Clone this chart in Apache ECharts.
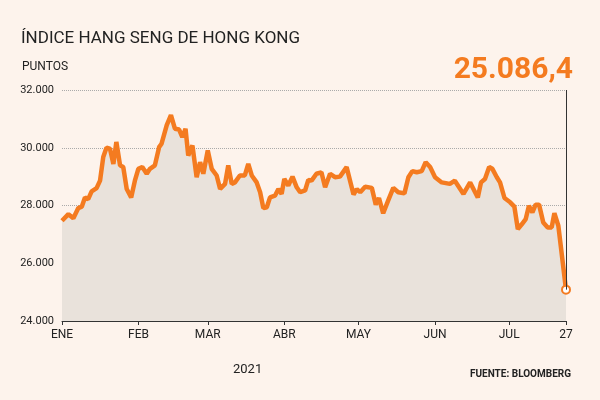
<!DOCTYPE html><html><head><meta charset="utf-8">
<script src="https://cdn.jsdelivr.net/npm/echarts@6/dist/echarts.min.js"></script>
<style>html,body{margin:0;background:#fdf3ec}#c{width:600px;height:400px}</style></head><body><div id="c"></div>
<script>
const days=[0,2.6,4.6,6.6,8,9.3,10.6,12,14,15.4,16.7,18,19.4,20.8,22,23.5,24.8,26.2,28,29.5,30.9,32.5,34.3,35.6,37.6,39.3,40.3,42.4,44.1,45.7,47.4,48.7,50,51.1,52.8,54.5,55.9,57.2,59,60.6,62.6,64,66,67.3,68.7,70,72,74,75.4,76.8,78.8,80.2,81.5,82.9,84.2,86.2,87.6,88.9,90,91.6,93.3,95,96.4,98.4,99.7,101,103,105,106.5,108.5,110.5,112.5,115.2,118,119.3,120.7,122.7,125.4,127,128.3,130,132,134.1,136.1,138.6,140.2,141.8,143.6,145.6,147.2,149,151,153.7,157,159,162.5,165.2,168.3,169.6,171.2,172.9,174.2,176,177.3,179.1,181.4,183.1,184.5,186.1,187.7,189,190.4,191.7,193.1,194.8,196.6,198.2,199.3,200.9,204];
const values=[27470,27700,27560,27910,27960,28280,28220,28490,28600,28860,29680,30000,29970,29440,30200,29390,29330,28570,28280,28860,29270,29330,29100,29270,29390,30020,30140,30780,31130,30660,30630,30370,30660,29730,30080,28980,29500,29100,29910,29270,29040,28570,28750,29390,28750,28800,29040,29040,29440,29040,28800,28460,27910,27940,28280,28340,28570,28400,28920,28690,29000,28630,28460,28520,28890,28860,29100,29150,28630,29100,28980,29000,29330,28380,28570,28460,28650,28610,28030,28260,27730,28170,28610,28460,28420,28980,29190,29150,29190,29500,29330,28980,28800,28750,28860,28400,28800,28280,28800,28920,29330,29270,28980,28800,28260,28110,27960,27180,27350,27530,27990,27760,28030,28030,27410,27240,27240,27730,27300,25086.4];
const tickDays=[0,31,59,90,120,151,181,204];
const tickLabels=['ENE','FEB','MAR','ABR','MAY','JUN','JUL','27'];
const yTicks=[24000,26000,28000,30000,32000];
const fmt=v=>String(v).replace(/\B(?=(\d{3})+(?!\d))/g,'.');
const data=days.map((d,i)=>i===days.length-1?{value:[d,values[i]],symbol:'circle',symbolSize:8,itemStyle:{color:'#fff',borderColor:'#f47b20',borderWidth:2}}:[d,values[i]]);
const ch=echarts.init(document.getElementById('c'));
ch.setOption({backgroundColor:'#fdf3ec',animation:false,
title:[{text:'ÍNDICE HANG SENG DE HONG KONG',left:16,top:25,textStyle:{fontFamily:'Roboto',fontWeight:'normal',fontSize:17,color:'#222'}},
{text:'PUNTOS',left:17,top:56,textStyle:{fontFamily:'Roboto',fontWeight:'normal',fontSize:12,color:'#222'}},
{text:'25.086,4',right:22,top:50,textStyle:{fontFamily:'Roboto',fontWeight:'bold',fontSize:30,color:'#f47b20'}},
{text:'2021',left:228,top:358,textStyle:{fontFamily:'Roboto',fontWeight:'normal',fontSize:13,color:'#222'}},
{text:'FUENTE: BLOOMBERG',right:24,top:364,textStyle:{fontFamily:'Roboto',fontWeight:'bold',fontSize:10,color:'#222'}}],
grid:{left:62,right:34,top:90,bottom:79},
xAxis:{type:'value',min:0,max:204,axisLine:{lineStyle:{color:'#333'}},splitLine:{show:false},
axisTick:{customValues:tickDays,length:4,lineStyle:{color:'#333'}},
axisLabel:{customValues:tickDays,formatter:v=>tickLabels[tickDays.indexOf(v)],color:'#222',fontFamily:'Roboto',fontSize:12,margin:8}},
yAxis:{type:'value',min:24000,max:32000,interval:2000,axisLine:{show:false},axisTick:{show:false},
axisLabel:{formatter:fmt,color:'#222',fontFamily:'Roboto',fontSize:11},
splitLine:{lineStyle:{type:'dotted',color:'#aaa'}}},
series:[{type:'line',data:data,showSymbol:true,symbol:'none',lineStyle:{color:'#f47b20',width:4.5},
areaStyle:{color:'#e9e2db',opacity:1},
markLine:{silent:true,symbol:'none',label:{show:false},lineStyle:{color:'#333',width:1,type:'solid'},
data:[[{coord:[204,25086.4]},{coord:[204,32000]}]]}}]});
</script></body></html>
